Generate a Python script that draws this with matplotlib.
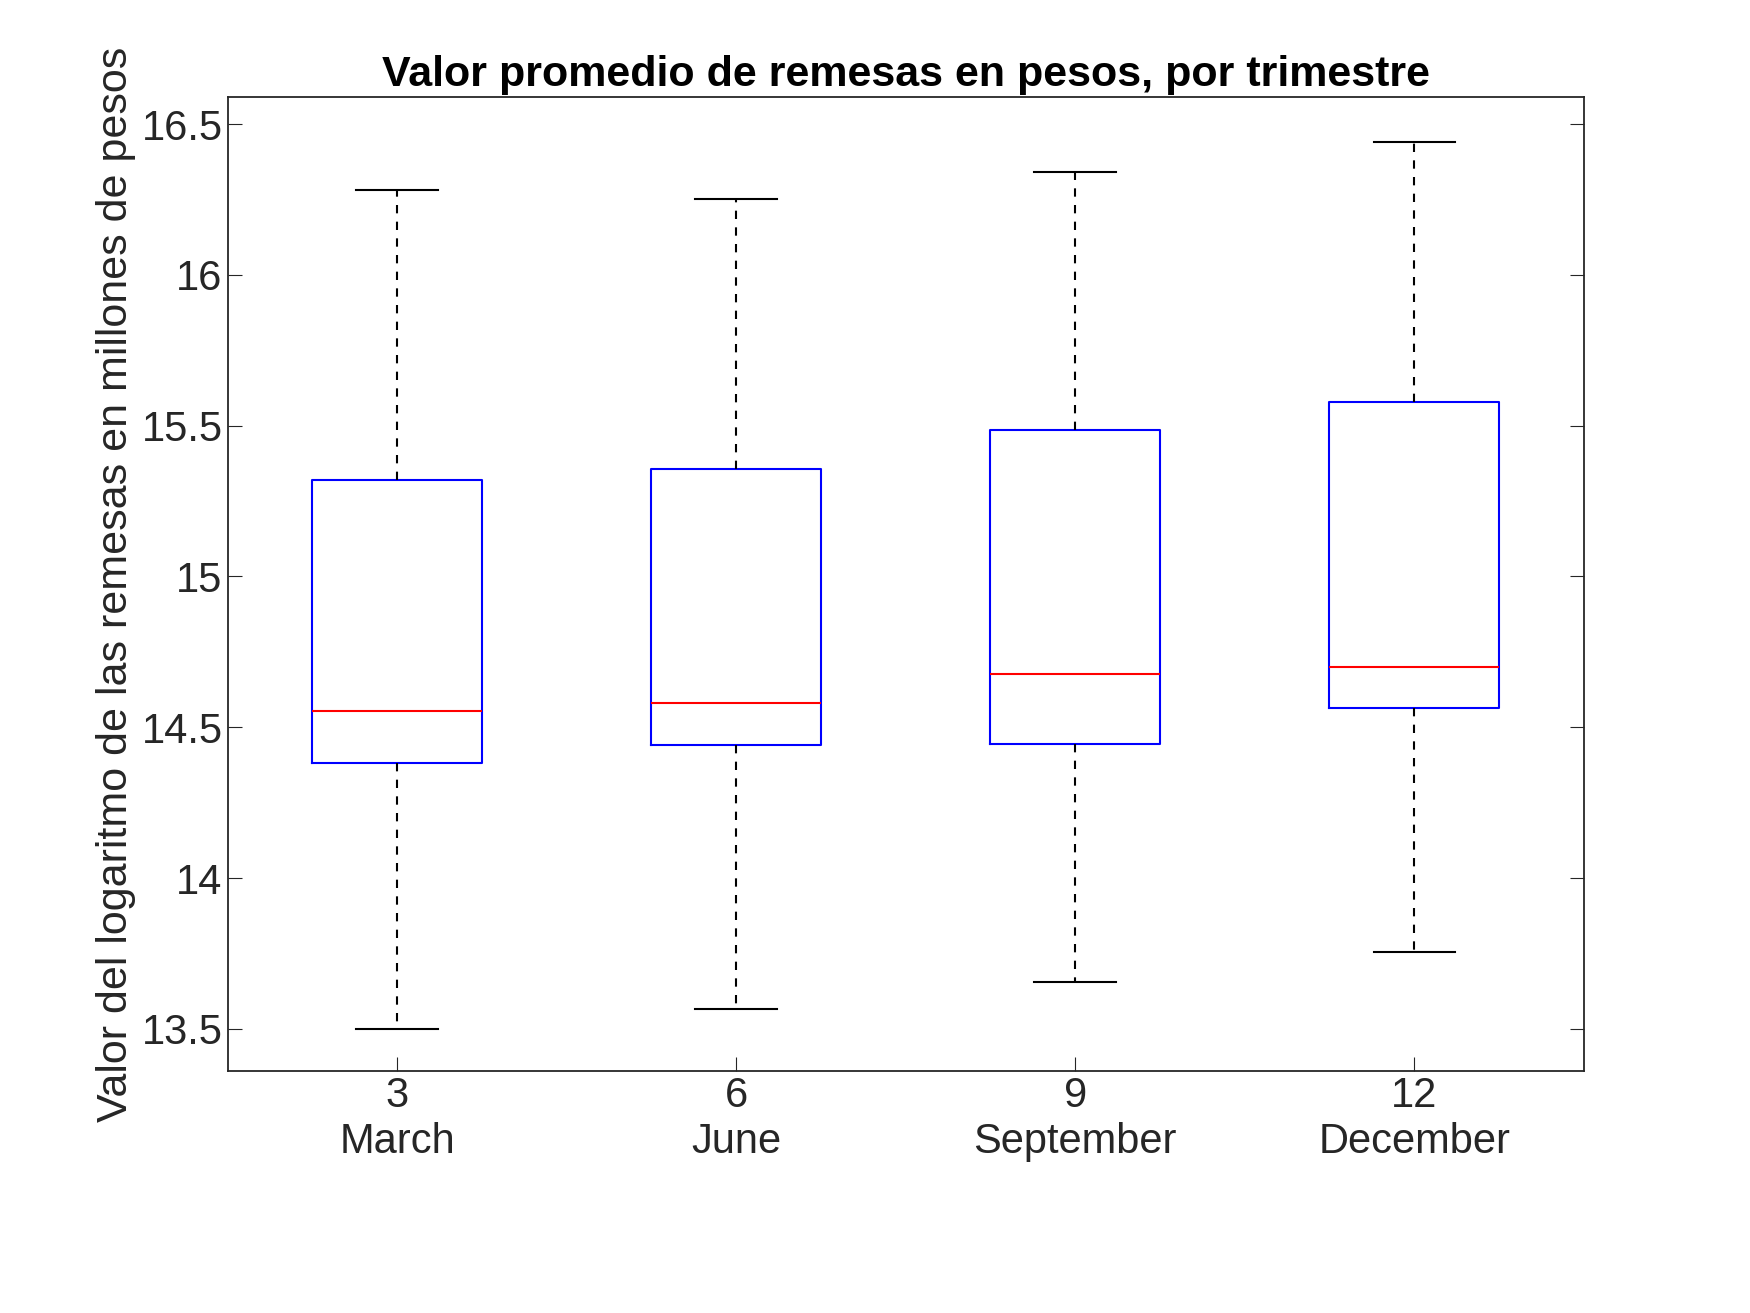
import matplotlib.pyplot as plt

plt.rcParams['font.family'] = ['Liberation Sans', 'DejaVu Sans']

months = ['3\nMarch', '6\nJune', '9\nSeptember', '12\nDecember']
whislo = [13.50, 13.565, 13.655, 13.755]
q1 = [14.38, 14.44, 14.445, 14.565]
med = [14.555, 14.58, 14.675, 14.70]
q3 = [15.32, 15.355, 15.485, 15.58]
whishi = [16.28, 16.25, 16.34, 16.44]

stats = [dict(whislo=a, q1=b, med=c, q3=d, whishi=e, fliers=[])
         for a, b, c, d, e in zip(whislo, q1, med, q3, whishi)]

fig = plt.figure(figsize=(17.5, 13.13), dpi=100)
ax = fig.add_axes([0.13, 0.184, 0.775, 0.742])
ax.bxp(stats, positions=[1, 2, 3, 4], widths=0.5, showfliers=False,
       boxprops=dict(color='blue', linewidth=1.5),
       medianprops=dict(color='red', linewidth=1.5),
       whiskerprops=dict(color='black', linestyle=(0, (4, 4)), linewidth=1.5),
       capprops=dict(color='black', linewidth=1.5), capwidths=0.24)
ax.set_xlim(0.5, 4.5)
ax.set_ylim(13.359, 16.589)
ax.set_xticks([1, 2, 3, 4])
ax.set_xticklabels(months)
ax.set_yticks([13.5, 14, 14.5, 15, 15.5, 16, 16.5])
ax.set_yticklabels(['13.5', '14', '14.5', '15', '15.5', '16', '16.5'])
ax.tick_params(direction='in', length=10, labelsize=30, right=True, top=False,
               colors='#262626', labelcolor='#262626')
for s in ax.spines.values():
    s.set_color('#262626')
    s.set_linewidth(1.3)
ax.set_title('Valor promedio de remesas en pesos, por trimestre', fontsize=31,
             fontweight='bold', pad=8)
ax.set_ylabel('Valor del logaritmo de las remesas en millones de pesos', fontsize=31,
              color='#262626')
fig.savefig('out.png', dpi=100)
